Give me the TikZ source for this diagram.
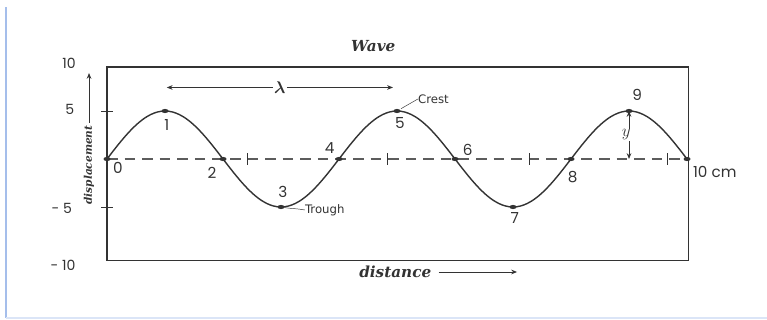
\documentclass[tikz,border=0pt]{standalone}
\usepackage{fontspec}
\usepackage{amsmath}
\usetikzlibrary{arrows.meta,positioning}
\newfontfamily\numfont{Poppins}
\newfontfamily\tagfont{DejaVu Sans}
\newfontfamily\headfont{DejaVu Serif}
\definecolor{ink}{gray}{0.2}
\definecolor{edgeblue}{RGB}{165,190,235}
\tikzset{
  >={Stealth[length=5pt,width=4pt]},
}

\begin{document}
\begin{tikzpicture}[
  x=1.74cm, y=0.288cm,
  frame/.style={draw=ink, line width=1.2pt},
  wave/.style={draw=ink, line width=1.2pt},
  axisline/.style={draw=ink!80, line width=0.9pt, dash pattern=on 9pt off 6pt},
  tick/.style={draw=ink, line width=0.8pt},
  ticklbl/.style={text=ink, font=\numfont\fontsize{12}{14}\selectfont, inner sep=0pt},
  num/.style={text=ink, font=\numfont\fontsize{13}{15}\selectfont, inner sep=0pt},
  tag/.style={text=ink, font=\tagfont\fontsize{10}{12}\selectfont, inner sep=0pt},
  head/.style={text=ink, font=\headfont\bfseries\itshape\fontsize{13}{15}\selectfont, inner sep=0pt},
  pointer/.style={draw=ink, line width=0.8pt}
]
\useasboundingbox (-1.845,-16.771) rectangle (11.379,16.5625);

% page edge
\draw[edgeblue, line width=1.2pt] (-1.741,15.83) -- (-1.741,-16.56);
\draw[edgeblue!40, line width=1pt] (-1.741,-16.56) -- (11.379,-16.56);

% frame
\draw[frame] (0,-10.6) rectangle (10.03,9.58);

% points on the wave
\foreach \i in {0,...,10}
  \coordinate (p\i) at (\i,{5*sin(90*\i)});

% axis and ticks
\draw[axisline] (p0) -- (p10);
\foreach \t in {2.43,4.83,7.29,9.66}
  \draw[tick] (\t,-0.6) -- (\t,0.6);
\foreach \v in {5,-5}
  \draw[tick] (-0.1,\v) -- (0.1,\v);

% the wave
\draw[wave] plot[domain=0:10, samples=161, smooth] (\x,{5*sin(90*\x)});
\foreach \i in {0,...,10}
  \fill[ink] (p\i) ellipse (3pt and 1.8pt);

% scale
\node[ticklbl] (t10) at (-0.655,10.0) {10};
\node[ticklbl] (t5) at (-0.64,5.2) {5};
\node[ticklbl] (tm5) at (-0.78,-5.1) {- 5};
\node[ticklbl] (tm10) at (-0.76,-11.04) {- 10};

% titles
\node[head] (title) at (4.59,11.77) {Wave};
\node[head] (dist) at (4.97,-11.77) {distance};
\coordinate (distend) at (7.07,-11.77);
\draw[pointer, ->] ([xshift=6pt]dist.east) -- (distend);
\node[head, font=\headfont\bfseries\itshape\fontsize{9}{10}\selectfont, rotate=90] (disp) at (-0.31,-0.625) {displacement};
\coordinate (dispend) at (-0.31,8.96);
\draw[pointer, ->] ([yshift=2pt]disp.east) -- (dispend);

% wavelength
\coordinate (lamL) at (1.03,7.45);
\coordinate (lamR) at (4.93,7.45);
\node[text=ink, inner sep=1pt, font=\Large] (lam) at (2.98,7.45) {$\boldsymbol{\lambda}$};
\draw[pointer, ->] (lam) -- (lamL);
\draw[pointer, ->] (lam) -- (lamR);

% point labels
\foreach \n/\px/\py in {0/0.19/-0.94, 1/1.03/3.54, 2/1.81/-1.46, 3/3.03/-3.44,
    4/3.84/1.15, 5/5.05/3.75, 6/6.22/0.94, 7/7.03/-6.15, 8/8.03/-1.875, 9/9.14/6.67}
  \node[num] (n\n) at (\px,\py) {\n};
\node[num, anchor=west] (unit) at (10.10,-1.35) {10 cm};

% crest and trough
\node[tag, anchor=west] (crest) at (5.36,6.25) {Crest};
\draw[pointer, thin, shorten <=4pt] (p5) -- (crest.west);
\node[tag, anchor=west] (trough) at (3.41,-5.31) {Trough};
\draw[pointer, thin, shorten <=3pt] (p3) to[out=-10, in=170] (trough.west);

% amplitude
\coordinate (a9) at (9,0);
\draw[pointer, <->] (p9) -- (a9);
\node[fill=white, inner sep=0.5pt, text=ink, font=\Large] (ylbl) at (8.95,2.5) {$y$};

\end{tikzpicture}
\end{document}
